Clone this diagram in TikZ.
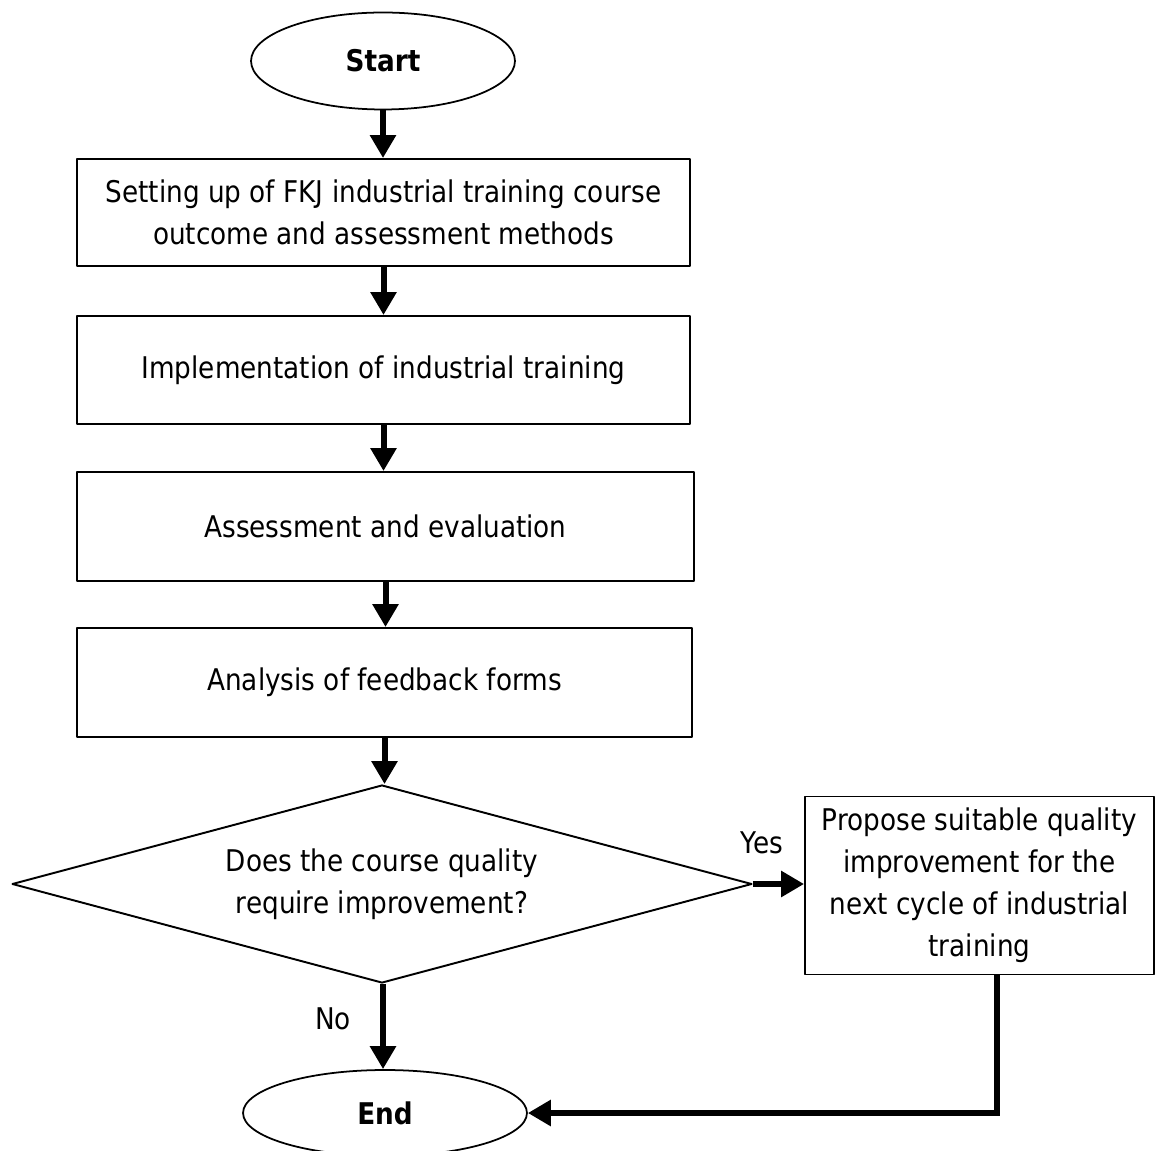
\documentclass[tikz,border=0pt]{standalone}
\usepackage{fontspec}
\setmainfont{DejaVu Sans}[FakeStretch=0.88]
\usetikzlibrary{shapes.geometric,arrows.meta}
\begin{document}
\begin{tikzpicture}[x=0.02cm,y=-0.02cm,line join=round,
  font=\fontsize{17}{24}\selectfont,
  term/.style={draw,ellipse,line width=1pt,inner sep=0pt,font=\fontsize{17}{24}\selectfont\bfseries},
  proc/.style={draw,rectangle,line width=1.1pt,align=center,inner sep=0pt},
  decide/.style={draw,diamond,line width=1.1pt,align=center,inner sep=0pt,aspect=3.7},
  flow/.style={line width=0.12cm,-{Triangle[length=0.46cm,width=0.5cm]}}]
				\useasboundingbox (0,0) rectangle (1155,1151);
				\node[term,minimum width=5.28cm,minimum height=1.94cm] (start) at (383,61) {Start};
				\node[proc,minimum width=12.26cm,minimum height=2.14cm] (setup) at (383.5,212.5)
				{Setting up of FKJ industrial training course\\outcome and assessment methods};
				\node[proc,minimum width=12.26cm,minimum height=2.16cm] (impl) at (383.5,370)
				{Implementation of industrial training};
				\node[proc,minimum width=12.34cm,minimum height=2.18cm] (eval) at (385.5,526.5)
				{Assessment and evaluation};
				\node[proc,minimum width=12.3cm,minimum height=2.18cm] (anal) at (384.5,682.5)
				{Analysis of feedback forms};
				\node[decide,minimum width=14.8cm,minimum height=3.96cm] (ask) at (382,884)
				{Does the course quality\\require improvement?};
				\node[proc,minimum width=6.98cm,minimum height=3.56cm] (prop) at (979.5,885.5)
				{Propose suitable quality\\improvement for the\\next cycle of industrial\\training};
				\node[term,minimum width=5.68cm,minimum height=1.72cm] (end) at (385,1113) {End};
				\node (yes) at (762,843) {Yes};
				\node (no) at (333,1019) {No};
				% main line
				\draw[flow] (start.south) -- (start.south |- setup.north);
				\draw[flow] (setup.south) -- (setup.south |- impl.north);
				\draw[flow] (impl.south) -- (impl.south |- eval.north);
				\draw[flow] (eval.south) -- (eval.south |- anal.north);
				\draw[flow] (anal.south) -- (anal.south |- ask.north);
				% branches
				\draw[flow] (ask.east) -- (ask.east -| prop.west);
				\draw[flow] ([xshift=0.02cm]ask.south) -- ([xshift=0.02cm]ask.south |- end.north);
				\draw[flow,line join=miter] ([xshift=0.35cm]prop.south) |- (end.east);
\end{tikzpicture}
\end{document}
